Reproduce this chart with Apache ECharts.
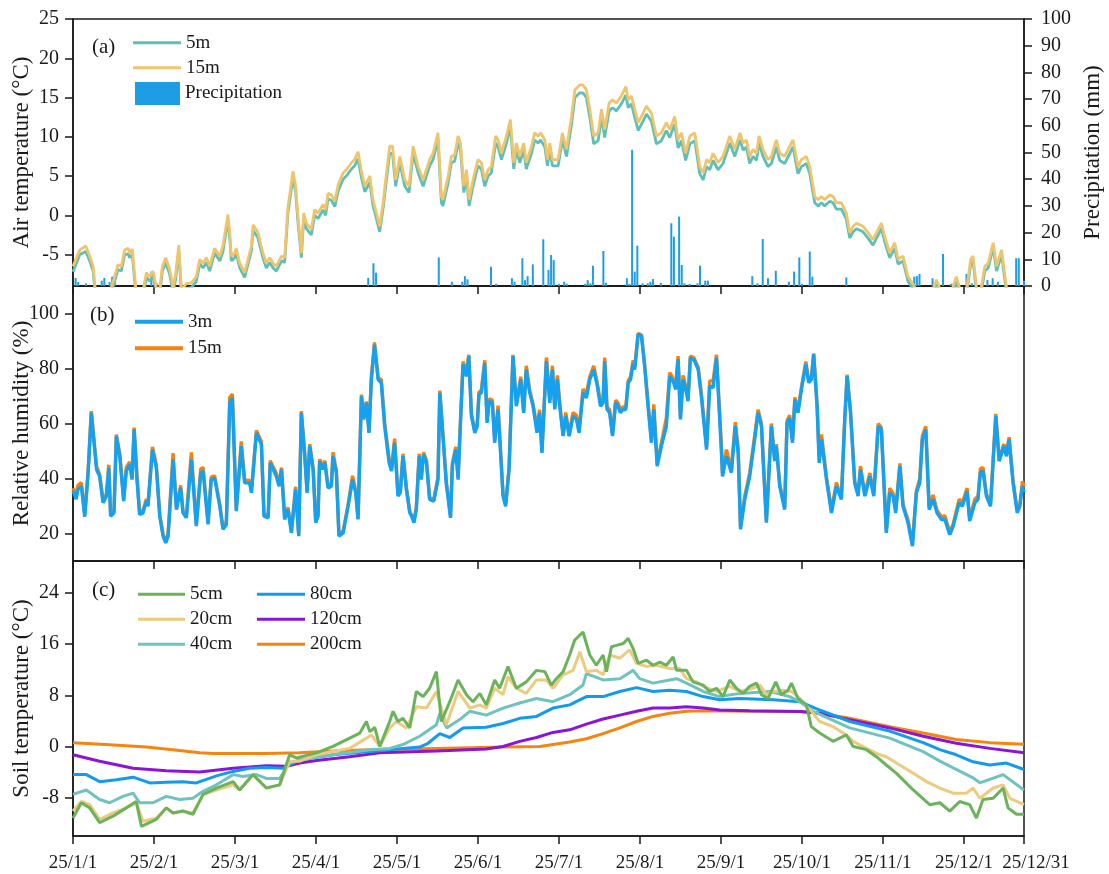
<!DOCTYPE html>
<html><head><meta charset="utf-8">
<script src="https://cdn.jsdelivr.net/npm/echarts@6/dist/echarts.min.js"></script>
<style>html,body{margin:0;padding:0;background:#fff}#c{width:1109px;height:874px}</style>
</head><body><div id="c"></div>
<script>
// ---------- x ticks ----------
const tickDays = [0,31,62,93,124,155,186,217,248,279,310,341,364];
const tickLabels = ['25/1/1','25/2/1','25/3/1','25/4/1','25/5/1','25/6/1','25/7/1','25/8/1','25/9/1','25/10/1','25/11/1','25/12/1','25/12/31'];
const airTicks = [-5,0,5,10,15,20,25];
const rhTicks = [20,40,60,80,100];
const soilTicks = [-8,0,8,16,24];

// ---------- (a) air temperature ----------
const airDays = [0,2.6,4.9,6.4,7.7,8.7,11,13,15.3,17.2,
18.5,19.8,21.1,21.7,22.7,24,26,28.1,29.4,30.6,
31.9,33,34.2,35.5,37,38.3,39.3,40.5,41.5,43.4,
45.3,47.2,48.5,49.8,51.1,52.3,54.2,56.2,57.4,59.3,
60,60.6,61.9,62.5,63.8,65.7,67,68.3,68.9,70.8,
72.7,74,75.3,76.6,77.8,79.8,81,82.3,84.2,85.2,
86.1,87.4,88.3,89.3,91.2,92.5,93.8,95.7,96.7,97.6,
98.9,100.2,101.5,103.4,104.6,106.6,107.8,109.1,110.4,111.7,
113.6,114.8,116.1,117.4,118.7,120,121.2,122.3,123.5,125.1,
127,128.6,130.2,132.1,134,136.5,137.8,139.7,141,141.6,
143.6,144.8,146.1,147.4,148.3,149.6,150.6,151.6,153.1,155,
156.3,157.6,158.9,160.1,161.8,162.7,164,165.9,167.4,168.7,
169.7,171,172.5,173.5,175.5,176.7,178,179,180.6,181.6,
182.5,183.5,185.7,187.3,188.9,190.8,192.1,194,195.2,196.5,
197.8,199.3,201,202.3,203.5,205.2,206.5,208,209.9,211.6,
212.5,213.7,216.3,218.2,219.5,221.4,223.3,225.2,227.1,228.4,
230.3,231.6,232.9,234.5,236.1,238,239.9,241.2,242.5,243.7,
245,246.9,248.8,250.1,251.4,253.3,255.3,256.5,257.8,259,
260.3,261.6,262.6,264.1,266,267.3,269.2,270.5,272.4,275.6,
277.5,278.8,280.7,282,283.9,285.2,286.5,287.7,289.7,290.9,
292.2,294.1,296,297.3,298.6,299.9,302.4,304.3,306.2,309.4,
310.7,312.6,314.5,315.8,317.7,319.6,321.6,323.5,326,328.5,
330.5,332,335,338.1,340,342,343.6,344.5,345.8,347.2,
349,350.3,352.2,353.5,355.4,357.3,359,362,364];
const air15m = [-6.5,-4.4,-3.9,-5.2,-6.5,-10,-11,-11,-8.5,-6.3,
-6.5,-4.4,-4.2,-4.8,-4.3,-9.2,-11,-7.3,-7.8,-7.1,
-9.2,-10,-6.5,-5.4,-6.9,-9.2,-7.5,-3.8,-9.5,-8.7,
-8.6,-7.8,-5.6,-6.1,-5.4,-6.5,-4.2,-5.2,-3.9,0.1,
-2.2,-5.2,-4.8,-4.2,-6.1,-7.3,-5.6,-3.9,-1.2,-2.2,
-4.8,-6.1,-5.4,-6.1,-6.5,-5.2,-5.4,1.1,5.6,3.7,
-0.1,-4.8,0.3,-1.0,-1.8,0.7,0.3,1.4,0.7,2.8,
2.6,1.8,3.9,5.4,5.8,6.7,7.1,8.1,5.6,3.7,
5.0,2.0,0.3,-1.4,1.6,5.4,8.8,8.8,4.5,7.5,
4.5,3.7,8.8,6.2,4.5,7.1,7.9,10.5,2.4,2.0,
5.0,7.5,7.7,10.1,9.2,3.7,5.8,2.0,4.5,7.1,
6.7,4.5,5.8,6.2,10.1,9.6,7.9,10.1,12.2,6.7,
9.2,7.5,9.2,6.7,8.8,10.5,10.1,10.5,9.6,7.1,
9.2,7.1,7.1,10.5,8.4,12.6,16.0,16.6,16.6,16.0,
13.5,10.1,10.5,13.5,10.9,14.3,14.7,14.3,15.2,16.4,
14.7,15.2,11.8,13.0,13.9,13.0,10.1,10.5,11.8,10.9,
12.6,9.6,10.5,7.9,10.1,10.5,6.2,5.4,7.1,6.7,
7.9,6.7,7.5,8.8,10.1,8.4,10.5,9.2,9.6,7.5,
8.4,7.9,10.1,8.4,7.1,7.5,9.6,7.9,7.5,9.6,
6.2,7.1,7.5,6.2,2.4,2.0,2.4,2.0,2.6,2.4,
1.6,1.6,0.3,-2.2,-1.4,-1.0,-1.4,-2.2,-3.1,-1.0,
-2.7,-4.8,-3.5,-5.6,-5.2,-7.8,-8.8,-10,-11,-10,
-8.2,-9.5,-11,-7.8,-10,-9.5,-5.6,-5.2,-9.2,-10,
-6.5,-6.1,-3.5,-6.5,-4.4,-9.2,-11,-11.5,-11];
const air5m = [-7.2,-5.0,-4.6,-5.8,-7.1,-10.6,-11.6,-11.6,-9.1,-6.9,
-7.1,-5.0,-4.9,-5.4,-5.0,-9.8,-11.6,-7.9,-8.4,-7.7,
-9.8,-10.6,-7.1,-6.0,-7.5,-9.8,-8.1,-4.5,-10.1,-9.3,
-9.2,-8.4,-6.2,-6.7,-6.0,-7.1,-4.8,-5.8,-4.6,-0.6,
-2.9,-5.8,-5.4,-4.8,-6.7,-7.9,-6.2,-4.5,-1.9,-2.9,
-5.4,-6.7,-6.0,-6.7,-7.1,-5.8,-6.0,0.4,4.8,3.0,
-0.8,-5.4,-0.4,-1.7,-2.5,0.0,-0.4,0.7,0.0,2.1,
1.9,1.1,3.1,4.6,5.0,5.9,6.3,7.2,4.8,3.0,
4.2,1.3,-0.4,-2.1,0.9,4.6,7.9,7.9,3.7,6.7,
3.7,2.9,7.9,5.4,3.7,6.3,7.1,9.6,1.6,1.2,
4.2,6.7,6.9,9.2,8.3,2.9,5.0,1.2,3.7,6.3,
5.9,3.7,5.0,5.4,9.2,8.7,7.1,9.2,11.3,5.9,
8.3,6.7,8.3,5.9,7.9,9.6,9.2,9.6,8.7,6.3,
8.3,6.3,6.3,9.6,7.5,11.6,15.0,15.6,15.6,15.0,
12.5,9.1,9.5,12.5,9.9,13.3,13.7,13.3,14.2,15.3,
13.7,14.2,10.8,12.0,12.9,12.0,9.1,9.5,10.8,9.9,
11.6,8.6,9.5,7.0,9.1,9.5,5.3,4.5,6.2,5.8,
7.0,5.8,6.6,7.9,9.2,7.5,9.6,8.3,8.7,6.6,
7.5,7.0,9.2,7.5,6.2,6.6,8.7,7.0,6.6,8.7,
5.3,6.2,6.6,5.3,1.6,1.2,1.6,1.2,1.8,1.6,
0.8,0.8,-0.5,-2.9,-2.1,-1.7,-2.1,-2.9,-3.8,-1.7,
-3.4,-5.4,-4.2,-6.2,-5.8,-8.4,-9.4,-10.6,-11.6,-10.6,
-8.8,-10.1,-11.6,-8.4,-10.6,-10.1,-6.2,-5.8,-9.8,-10.6,
-7.1,-6.7,-4.1,-7.1,-5.0,-9.8,-11.6,-12,-11.6];
const precipDays = [1,2,5,11,12,14,15,16,30,32,113,115,116,140,145,149,150,151,160,162,
168,169,172,173,174,176,180,182,183,184,186,188,189,196,197,198,199,203,204,212,
213,214,215,216,218,220,221,222,225,229,230,232,233,234,236,239,240,242,243,260,
262,264,266,269,274,276,278,279,282,283,296,322,323,324,329,331,333,336,337,342,
344,350,352,354,361,362,364];
const precipMm = [3,1.5,1,2,3,1.5,3.5,1.5,5.4,1,3,8.5,5,10.7,1.6,1.6,3.7,2.5,7.2,0.8,
2.9,1.6,10.4,2.2,3.7,8.1,17.5,6,11.6,9.7,0.8,1.6,0.8,0.8,2.2,1,7.6,13.1,1.2,2.9,
0.8,51,5.4,15.1,1,1,1.6,2.6,1.2,23.5,18.5,26,7.9,1,0.8,1,7.6,2,2,3.7,
1,17.6,2.9,5.7,1.6,5.4,10.7,0.8,12.9,3.5,3.2,3.5,3.7,4.5,2.9,1,12,0.8,0.8,4.5,
1,2.2,2.9,1.6,10.4,10.4,2];

// ---------- (b) relative humidity ----------
const rhDays = [0,1.2,1.9,3.2,4.5,5.8,7.0,9.0,10.2,11.5,
12.8,13.7,14.4,15.7,16.6,17.9,19.4,20.4,21.7,22.6,
23.4,24.5,25.5,26.8,28.1,28.7,30.4,31.9,33.2,34.5,
35.5,36.4,38.3,39.6,41.2,42.1,43.4,45.3,47.2,48.9,
49.8,51.7,52.9,54.2,56.2,57.4,58.7,60.0,61.0,62.5,
64.4,65.7,67.6,68.3,70.2,72.1,73.1,74.7,75.5,77.8,
78.9,79.8,81.0,82.3,83.6,85.2,86.4,87.4,88.7,89.6,
90.6,91.9,92.9,93.8,94.4,95.5,96.4,97.6,98.9,99.5,
100.8,101.8,103.4,105.3,107.0,108.2,109.1,110.4,111.3,112.3,
113.3,114.2,115.4,116.8,118.0,119.3,121.0,121.9,123.1,124.4,
125.3,126.3,127.6,128.9,129.5,130.5,131.4,132.5,133.3,134.2,
135.3,136.5,138.1,139.7,140.4,141.6,142.9,144.5,145.2,146.5,
147.4,148.3,149.3,150.6,151.5,152.5,153.8,154.7,155.4,156.3,
157.6,158.5,159.3,160.5,161.4,162.7,163.3,164.6,165.6,166.9,
168.4,169.7,171.4,172.5,173.5,174.8,176.1,177.6,178.6,179.5,
180.6,181.2,182.5,183.5,184.4,185.4,186.3,187.6,188.6,189.9,
191.4,192.7,193.7,195.2,196.5,197.8,199.3,200.7,201.9,202.9,
203.5,204.4,205.4,206.5,207.7,208.6,209.5,210.5,211.6,212.5,
213.4,214.4,215.0,216.3,217.6,218.8,220.1,221.4,222.3,223.6,
225.2,227.1,228.4,229.9,230.7,231.6,232.5,233.5,234.8,235.4,
236.3,237.6,239.3,240.5,242.5,243.7,245.0,246.3,248.2,248.6,
250.1,252.0,253.5,254.6,255.5,257.1,259.0,260.9,262.2,263.5,
265.4,267.3,268.6,269.2,270.5,272.4,273.3,274.3,275.4,276.3,
277.5,278.8,280.5,281.6,282.6,283.5,284.8,285.6,286.5,288.4,
290.3,292.2,294.1,295.4,296.3,297.6,299.2,300.5,301.4,303.1,
305.0,306.5,308.2,309.4,311.3,312.6,313.9,314.9,316.5,317.7,
319.6,321.3,322.8,324.1,325.1,326.4,327.7,329.2,330.7,332.4,
333.7,335.6,336.9,339.2,340.4,342.2,343.2,345.2,346.4,347.3,
348.3,349.6,351.2,353.2,354.5,356.3,357.3,358.3,359.8,361.4,
362.4,363.4,364];
const rh3m = [35.5,32.5,36,37.2,26.1,42,63.9,43.3,40.8,31.2,
33.6,43.9,26.3,27.5,55.4,48.1,31.8,42.7,45.1,39.6,
57.8,39.6,26.9,27.5,31.8,29.9,50.5,43.9,26.3,19.0,
16.6,19.0,46.9,28.7,36.6,27.5,25.7,46.9,22.7,42.1,
42.7,23.3,39.6,40.2,29.9,21.5,23.3,67.5,69.3,28.1,
51.8,38.4,38.4,34.8,56.6,52.4,26.3,25.7,45.7,40.8,
37.2,43.3,25.1,28.7,20.2,36.0,19.0,63.9,48.1,34.8,
51.8,43.3,23.9,26.3,46.3,43.3,45.7,36.6,37.2,48.1,
42.1,19.0,20.2,29.9,39.6,34.8,25.1,69.9,61.5,67.5,
56.6,76,88.7,76,74.8,59,45.7,42.7,53,33.6,
35,48.1,36,27.5,26.5,23.9,28.7,48.1,39.6,48.7,
45.7,32.4,31.8,39.6,71.2,55.4,37.8,25.7,44.5,50.5,
39.6,60.2,81.5,77.2,84.5,62.7,56.6,59,70.5,71.2,
82,60.2,68.1,67.5,53,65.1,65.7,33.6,29.9,43.3,
84.5,66.3,76,63.9,79.6,71.2,66.3,56.6,63.9,49.3,
71.2,82.7,67.5,79.6,65.1,76,66.3,55.4,62.7,55.4,
62.7,61.5,56.6,71.2,69.3,76,79.6,73.6,66.3,67.5,
82.7,65.1,63.9,55.4,67.5,66.3,63.9,65.1,65.1,74.8,
76,82,79.6,92.4,91.8,80.8,66.3,53,65.1,44.5,
51.8,59,77.2,74.8,72.4,83.3,61.5,76,71.2,68.1,
83.9,83.3,79.6,69.9,50.5,73.6,73.0,83.9,49.3,40.8,
48.1,42.1,59,49.3,21.5,32.4,40.8,54.2,63.9,59,
23.9,59,46.3,51.8,37.2,28.7,60.2,62,53,68.7,
63.9,72.4,81.5,74.8,76,85.1,66.3,45.7,54.2,39.6,
27.5,37.2,32.4,61.5,77.2,63.9,38.4,33.6,43.3,33.6,
40.8,33.6,59,57.8,20.2,34.8,33.6,27.5,44.5,29.9,
23.9,15.4,34.8,38.4,54.2,57.8,28.7,32.4,27.5,25.1,
25.1,19.6,22.7,31.2,29.9,35.4,24.5,31.2,32.4,42.1,
42.7,33.6,29.9,62.7,46.3,51.8,48.1,54.2,38.4,27.5,
29.9,37.2,35];
const rh15m = [36.5,34,37.5,38.5,27,43,64.5,44.5,41.5,32,
34.5,45,27,28.5,56,49,32.5,44,46,40.5,
58.5,40.5,27.5,28.5,32.5,30.5,51.5,45,27,19.5,
17.5,20,49.2,29.5,37.5,28,26.5,49.5,23.5,43.5,
44,24,40.5,41,30.5,22,24.5,69.5,70.7,29,
53.5,39.5,39.3,35.5,57.5,53.5,27,26.5,46.5,42,
38,44,26.5,29.5,21,37,19.5,64.5,49,35.5,
52.5,44,24.5,27,47,44.5,46.5,37.5,38,49.5,
43,19.5,21,30.5,41,35.5,25.5,70.5,62.5,68,
57,77,89.5,76.5,76,60,47,43.5,54.5,34,
35.5,49,37,28,27.5,25,29.5,49,40.5,49.5,
46.5,33,32.5,40.5,72,56,39,26.5,45.5,51.5,
40.5,61,82.5,78.5,85,63.5,57.5,60,71.5,72,
83,61,69,68.5,54,66.5,67,34.5,30.5,44,
85,67,77,64.5,81,72,67,58.5,65,50,
72,84,68.5,81,66,77.5,67.5,56,64,56.5,
64,63,57.5,72.5,71,77,81,74.5,67.5,68.5,
84,66,65,56,68.5,67.5,65,66,66,75.5,
77,83,80.5,92.8,92.2,81.5,67.5,54,67,45.5,
53,62,78.5,76,74,84.5,62.5,77.5,72.5,69,
84.5,84,80.5,71,51.5,75.5,75.5,85,52,42,
50.5,43.5,60.5,51,22.5,33.5,42,55.5,65,60,
24.5,60,47,52.5,38,29.5,61,63,54,69.5,
65,73,82.5,75.5,76.5,85.5,67,48,56,40.5,
28.5,38.5,33,62,77.8,64.5,39,34.5,44.5,34.5,
42,34.5,60,58.5,21,36.5,34.5,28.5,45.5,30.5,
25,16,35.5,40,55.5,59,29.5,34,28.5,26,
26.5,20.5,23.5,32.5,31,36.5,25.5,32.5,33.5,43.5,
44,34.5,31,63.5,47,52.5,49,55,39.5,28.5,
30.5,39,37];

// ---------- (c) soil temperature: [day, °C] ----------
const soil5cm = [[0,-11.2],[3.2,-8.8],[6.4,-9.6],[10.2,-11.9],[15.3,-10.9],[20.4,-9.6],[24.2,-8.6],[26.2,-12.5],[31.9,-11.4],[35.7,-9.6],
[38.3,-10.4],[42.1,-10.1],[45.9,-10.6],[49.8,-7.5],[54.9,-6.5],[61.3,-5.5],[63.8,-6.8],[68.9,-4.4],[74,-6.5],[79.1,-6.0],
[82.9,-1.3],[85.5,-1.8],[93.2,-1.0],[99.5,0],[105.9,1.3],[109.8,2.1],[112.3,3.9],[113.6,2.3],[115.5,3.0],[117.4,0],
[121.2,3.9],[122.5,5.5],[124.4,3.9],[126.3,4.4],[128.9,2.9],[131.4,8.6],[134,7.8],[136.5,9.1],[139.1,11.7],[141,3.9],
[144.2,7.0],[147.4,10.4],[150.6,8.1],[153.1,7.0],[155.7,8.3],[158.2,6.5],[161.4,10.4],[163.3,9.1],[166.5,12.5],[169.7,9.1],
[173.5,10.1],[177.4,11.9],[180.6,11.7],[183.1,9.6],[185,10.6],[187.6,11.7],[190.1,14.3],[192,16.6],[195.2,17.9],[197.8,14.3],
[200.3,12.7],[202.9,14.3],[204.2,11.7],[206.1,15.6],[208,15.8],[210.6,16.1],[212.5,16.9],[214.4,15.3],[216.3,13.0],[219.5,13.5],
[222,12.7],[224.6,13.2],[227.1,12.7],[229.7,14.0],[231,11.9],[234.8,11.9],[237.3,10.1],[241.2,9.6],[243.7,8.6],[246.3,9.1],
[248.8,7.8],[251.4,10.4],[253.9,9.1],[256.5,8.3],[259,9.4],[261.6,9.9],[263.5,8.1],[266,7.5],[269,10.1],[271.1,8.1],
[273.7,8.8],[275,9.9],[277.5,7.5],[280.7,6.5],[282.6,3.1],[285.8,2.1],[290.9,0.8],[296,1.8],[298.6,0],[303.7,-0.5],
[307.5,-1.6],[311.3,-2.9],[315.2,-4.2],[321.6,-6.8],[327.9,-9.1],[331.8,-8.8],[335.6,-10.1],[339.4,-8.6],[343.2,-9.1],[345.8,-11.2],
[348.3,-8.3],[352.2,-8.1],[356,-6.5],[357.9,-9.6],[361.1,-10.6],[364,-10.6]];
const soil20cm = [[0,-10.1],[3.2,-8.6],[6.4,-9.1],[10.2,-11.4],[15.3,-10.4],[20.4,-9.6],[24.2,-8.8],[26.8,-11.7],[31.9,-11.2],[35.7,-9.6],
[38.3,-10.4],[42.1,-10.1],[45.9,-10.4],[49.8,-7.5],[54.9,-6.8],[61.3,-6.0],[63.8,-6.8],[68.9,-4.4],[74,-6.5],[79.1,-6.0],
[82.9,-2.3],[86.8,-2.3],[93.2,-1.3],[99.5,-0.8],[105.9,-0.3],[112.3,1.3],[114.2,1.8],[117.4,0],[121.2,2.9],[123.8,3.9],
[127.6,2.9],[131.4,6.2],[135.3,6.0],[139.1,8.6],[142.9,3.4],[147.4,8.6],[151.9,6.0],[155.7,6.5],[158.2,6.0],[161.4,9.1],
[164.6,8.1],[166.5,10.9],[169.7,9.1],[173.5,8.3],[177.4,10.4],[181.2,10.4],[183.7,9.1],[187.6,11.2],[191.4,11.9],[194,14.8],
[196.5,11.7],[200.3,11.9],[202.9,11.2],[205.4,14.3],[209.3,13.8],[213.1,15.1],[215.7,13.0],[219.5,12.5],[223.3,12.7],[228.4,12.2],
[232.2,12.2],[234.8,10.6],[238.6,10.1],[241.2,9.4],[246.3,8.6],[251.4,9.4],[255.2,8.6],[260.3,9.1],[262.9,9.6],[265.4,8.1],
[268,8.6],[271.8,8.8],[275,8.6],[278.2,7.5],[282.6,5.5],[285.8,3.9],[290.9,3.1],[296,1.8],[298.6,0.8],[303.7,-0.3],
[308.8,-1.3],[311.3,-1.6],[316.4,-2.9],[321.6,-4.2],[326.7,-5.5],[331.8,-6.5],[336.9,-7.3],[342,-7.3],[344.5,-6.5],[347.1,-8.1],
[352.2,-6.5],[356,-6.0],[358.6,-8.1],[364,-9.1]];
const soil40cm = [[0,-7.5],[5.1,-6.8],[10.2,-8.3],[14,-8.8],[19.1,-7.8],[23,-7.3],[25.5,-8.8],[30.6,-8.8],[35.7,-7.8],[40.8,-8.3],
[45.9,-8.1],[49.8,-7.0],[54.9,-6.0],[61.3,-4.4],[65.1,-4.7],[70.2,-4.4],[74,-5.0],[79.1,-5.0],[82.9,-2.6],[86.8,-2.1],
[99.5,-1.3],[113.6,-0.5],[121.2,-0.3],[126.3,0.3],[132.7,1.6],[139.1,3.4],[140.4,5.2],[143,2.9],[148,4.2],[151.9,5.5],
[158.2,4.9],[164.6,6.0],[171,6.8],[177.4,7.5],[183.7,7.0],[190.1,8.1],[195.2,9.6],[196.5,11.4],[202.9,10.4],[209.3,10.6],
[214.4,11.9],[216.9,10.6],[222,9.9],[228.4,10.4],[231,10.6],[234.8,9.9],[241.2,8.6],[247.5,7.8],[255.2,8.3],[266.7,8.6],
[274.3,7.8],[278.2,7.0],[283.3,5.5],[297.3,2.9],[312.6,1.3],[325.4,-0.8],[331.8,-2.3],[344.5,-4.9],[347.1,-5.7],[356,-4.4],
[364,-6.8]];
const soil80cm = [[0,-4.4],[5.1,-4.4],[10.2,-5.5],[16.6,-5.2],[23,-4.8],[29.4,-5.7],[35.7,-5.6],[42.1,-5.5],[47.2,-5.7],[54.9,-4.6],
[61.3,-3.9],[67.6,-3.4],[74,-3.3],[80.4,-3.4],[82.9,-2.9],[86.8,-2.1],[99.5,-1.3],[113.6,-0.8],[126.3,-0.3],[132.7,-0.1],
[135.9,0.5],[140.4,2.0],[144.2,1.4],[149.3,2.9],[158.2,3.0],[164.6,3.6],[171,4.4],[177.4,4.7],[183.7,6.0],[190.1,6.5],
[196.5,7.8],[202.9,7.8],[209.3,8.6],[215.7,9.2],[222,8.6],[228.4,8.8],[234.8,8.6],[241.2,7.8],[247.5,7.3],[255.2,7.5],
[268,7.3],[278.2,7.0],[285.8,5.7],[297.3,3.9],[312.6,2.4],[325.4,0.6],[331.8,-0.5],[338.1,-1.3],[344.5,-2.4],[350.9,-2.9],
[357.3,-2.6],[364,-3.6]];
const soil120cm = [[0,-1.3],[10.2,-2.3],[23,-3.4],[35.7,-3.8],[48.5,-4.0],[61.3,-3.4],[74,-3.0],[81.7,-3.1],[86.8,-2.6],[93.2,-2.2],
[105.9,-1.6],[117.4,-1.0],[139.1,-0.7],[158.2,-0.4],[164.6,0.0],[171,0.8],[177.4,1.4],[183.7,2.2],[190.1,2.6],[196.5,3.5],
[202.9,4.3],[209.3,4.9],[215.7,5.5],[222,6.0],[228.4,6.0],[234.8,6.2],[241.2,6.0],[247.5,5.7],[259,5.6],[278.2,5.45],
[285.8,5.2],[297.3,4.2],[312.6,2.9],[325.4,1.6],[338.1,0.5],[350.9,-0.3],[364,-1.0]];
const soil200cm = [[0,0.6],[14,0.26],[28.1,-0.1],[38.3,-0.5],[48.5,-1.0],[53.6,-1.1],[74,-1.1],[86.8,-1.0],[99.5,-0.7],[113.6,-0.5],
[139.1,-0.3],[164.6,-0.1],[178.7,0.0],[190.1,0.7],[196.5,1.2],[202.9,2.0],[209.3,2.9],[215.7,3.9],[222,4.7],[228.4,5.2],
[234.8,5.5],[241.2,5.6],[259,5.5],[278.2,5.45],[285.8,5.2],[297.3,4.4],[312.6,3.1],[325.4,2.1],[338.1,1.1],[350.9,0.6],
[364,0.35]];

// ---------- chart ----------
const FONT = "'Liberation Serif','Times New Roman',serif";
const INK = '#1a1a1a';
const C = {
  air5:'#5dbfb7', air15:'#eec56d', precip:'#1d9de3',
  rh3:'#13a1f0', rh15:'#f5820f',
  s5:'#6bb35a', s20:'#eccb80', s40:'#6fc3bf', s80:'#129beb', s120:'#8a15d9', s200:'#f5850f'
};
const zip = (xs, ys) => xs.map((x, i) => [x, ys[i]]);
const GRIDS = [{top:19,height:267},{top:286,height:275},{top:561,height:275}];
const TICK = {show:true, inside:false, length:8, lineStyle:{color:INK, width:1.5}};

const xAxes = GRIDS.map((g, i) => ({
  type:'value', gridIndex:i, min:0, max:364, position:'bottom',
  axisLine:{show:true, onZero:false, lineStyle:{color:INK, width:1.5}},
  splitLine:{show:false},
  axisTick:Object.assign({customValues:tickDays}, TICK),
  axisLabel:{
    show: i === 2, customValues:tickDays, showMaxLabel:true, showMinLabel:true, hideOverlap:false,
    margin:18, color:INK, fontFamily:FONT, fontSize:19,
    formatter: v => {
      const k = tickDays.indexOf(Math.round(v));
      if (k < 0) return '';
      return k === tickDays.length - 1 ? '{last|' + tickLabels[k] + '}' : tickLabels[k];
    },
    rich:{ last:{fontFamily:FONT, fontSize:19, color:INK, padding:[0,0,0,24]} }
  }
}));

function yAx(opt, ticks){
  const o = {
    type:'value', nameLocation:'middle', nameMoveOverlap:false,
    nameTextStyle:{fontFamily:FONT, fontSize:23, color:INK},
    axisLine:{show:true, onZero:false, lineStyle:{color:INK, width:1.5}},
    splitLine:{show:false},
    axisTick:Object.assign({}, TICK),
    axisLabel:{color:INK, fontFamily:FONT, fontSize:20, margin:14}
  };
  if (ticks) { o.axisTick.customValues = ticks; o.axisLabel.customValues = ticks; }
  return Object.assign(o, opt);
}
const yAxes = [
  yAx({gridIndex:0, position:'left', min:-9, max:25, name:'Air temperature (°C)', nameGap:40}, airTicks),
  yAx({gridIndex:0, position:'right', min:0, max:100, interval:10, name:'Precipitation (mm)', nameGap:57,
       axisLabel:{color:INK, fontFamily:FONT, fontSize:20, margin:17}}),
  yAx({gridIndex:1, position:'left', min:10, max:110, name:'Relative humidity (%)', nameGap:40}, rhTicks),
  yAx({gridIndex:2, position:'left', min:-14, max:29, name:'Soil temperature (°C)', nameGap:40}, soilTicks)
];

function line(name, data, color, x, y, w){
  return {type:'line', name, data, xAxisIndex:x, yAxisIndex:y, symbol:'none', showSymbol:false,
          lineStyle:{color, width:w}, itemStyle:{color}, clip:true, z:3};
}
const series = [
  {type:'bar', name:'Precipitation', data:zip(precipDays, precipMm), xAxisIndex:0, yAxisIndex:1,
   barWidth:2, itemStyle:{color:C.precip}, z:2},
  line('5m', zip(airDays, air5m), C.air5, 0, 0, 2.8),
  line('15m', zip(airDays, air15m), C.air15, 0, 0, 2.8),
  line('RH 15m', zip(rhDays, rh15m), C.rh15, 1, 2, 3.4),
  line('RH 3m', zip(rhDays, rh3m), C.rh3, 1, 2, 3.4),
  line('200cm', soil200cm, C.s200, 2, 3, 3),
  line('120cm', soil120cm, C.s120, 2, 3, 3),
  line('80cm', soil80cm, C.s80, 2, 3, 3),
  line('40cm', soil40cm, C.s40, 2, 3, 3),
  line('20cm', soil20cm, C.s20, 2, 3, 3),
  line('5cm', soil5cm, C.s5, 2, 3, 3)
];

const LT = {fontFamily:FONT, fontSize:19, color:INK};
function leg(name, left, cy, opts){
  return Object.assign({
    data:[{name, icon:'rect'}], left, top:cy - 9.5, padding:0, itemWidth:48, itemHeight:3,
    selectedMode:false, textStyle:LT
  }, opts || {});
}
const legends = [
  leg('5m', 133, 42.7),
  leg('15m', 133, 67.7),
  leg('Precipitation', 135, 82, {top:82, itemWidth:45, itemHeight:23}),
  leg('RH 3m', 135, 321.7, {itemHeight:4, formatter:()=>'3m'}),
  leg('RH 15m', 135, 348.3, {itemHeight:4, formatter:()=>'15m'}),
  leg('5cm', 138, 594.3, {itemWidth:47}),
  leg('20cm', 138, 619.3, {itemWidth:47}),
  leg('40cm', 138, 644.3, {itemWidth:47}),
  leg('80cm', 257, 594.3),
  leg('120cm', 257, 619.3),
  leg('200cm', 257, 644.3)
];

const panelLabels = [['(a)',92,37],['(b)',90,305],['(c)',92,580]];

const chart = echarts.init(document.getElementById('c'), null, {renderer:'canvas'});
chart.setOption({
  animation:false,
  backgroundColor:'#fff',
  title: panelLabels.map(([t,l,tp]) => ({text:t, left:l, top:tp, padding:0,
    textStyle:{fontFamily:FONT, fontSize:21, fontWeight:'normal', color:INK}})),
  grid: GRIDS.map(g => ({left:73, right:85, top:g.top, height:g.height, show:true,
    containLabel:false, outerBoundsMode:'none',
    borderColor:INK, borderWidth:1.5, backgroundColor:'transparent'})),
  legend: legends,
  xAxis: xAxes,
  yAxis: yAxes,
  series
});
</script></body></html>
